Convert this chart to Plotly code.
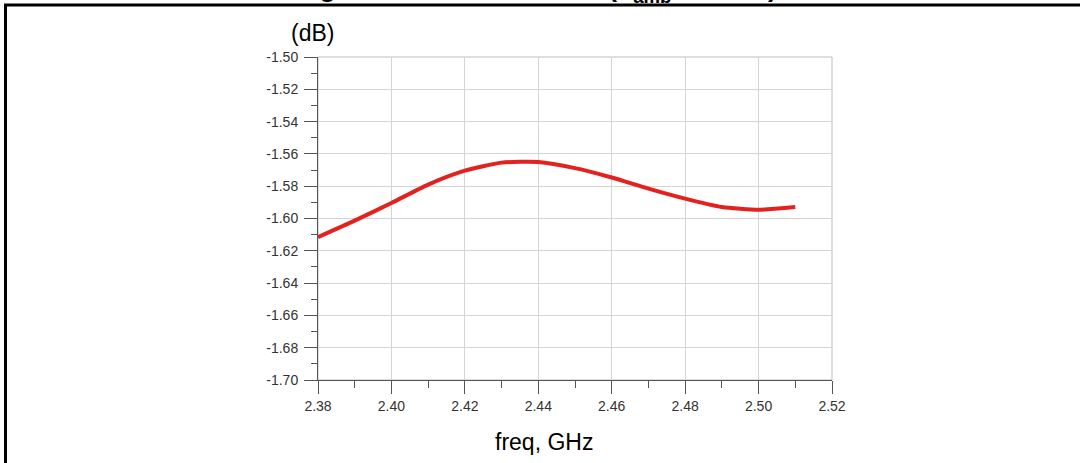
import plotly.graph_objects as go

freq_ghz = [2.38, 2.39, 2.40, 2.41, 2.42, 2.43, 2.44, 2.45, 2.46, 2.47, 2.48, 2.49, 2.50, 2.51]
loss_db = [-1.6115, -1.6013, -1.5904, -1.5790, -1.5704, -1.5654, -1.5650,
           -1.5688, -1.5746, -1.5815, -1.5877, -1.5929, -1.5946, -1.5929]

x_ticks = [2.38, 2.40, 2.42, 2.44, 2.46, 2.48, 2.50, 2.52]
y_ticks = [-1.50, -1.52, -1.54, -1.56, -1.58, -1.60, -1.62, -1.64, -1.66, -1.68, -1.70]

FONT = "Liberation Sans, Arial, sans-serif"
AX = "#555555"
GRID = "#d4d4d4"

W, H = 1080, 463
L, R, T, B = 318, 248, 57, 83
pw, ph = W - L - R, H - T - B

def px(x):
    return (x - L) / pw

def py(y):
    return (H - B - y) / ph

fig = go.Figure()
fig.add_trace(go.Scatter(x=freq_ghz, y=loss_db, mode="lines",
                         line=dict(color="#e3211f", width=4, shape="spline", smoothing=0.6),
                         showlegend=False, hoverinfo="skip"))

axis_common = dict(
    showline=True, linecolor=AX, linewidth=1,
    ticks="outside", ticklen=13, tickcolor=AX, tickwidth=1,
    showgrid=True, gridcolor=GRID, gridwidth=1,
    zeroline=False,
    tickfont=dict(family=FONT, size=14, color="#333333"),
)

fig.update_xaxes(range=[2.38, 2.52], tickvals=x_ticks,
                 ticktext=[f"{v:.2f}" for v in x_ticks],
                 minor=dict(dtick=0.01, tick0=2.38, ticks="outside", ticklen=7,
                            tickcolor=AX, showgrid=False),
                 **axis_common)
fig.update_yaxes(range=[-1.70, -1.50], tickvals=y_ticks,
                 ticktext=[f"{v:.2f}" for v in y_ticks],
                 minor=dict(dtick=0.01, tick0=-1.70, ticks="outside", ticklen=6,
                            tickcolor=AX, showgrid=False),
                 ticklabelstandoff=3,
                 **axis_common)

shapes = [
    # plot box (top & right edges)
    dict(type="rect", xref="paper", yref="paper", x0=0, y0=0, x1=1, y1=1,
         line=dict(color="#bdbdbd", width=1), layer="below"),
    # outer frame
    dict(type="line", xref="paper", yref="paper", x0=px(5.5), x1=px(5.5),
         y0=py(4), y1=py(480), line=dict(color="black", width=3)),
    dict(type="line", xref="paper", yref="paper", x0=px(4), x1=px(1100),
         y0=py(5), y1=py(5), line=dict(color="black", width=3)),
]

annotations = [
    dict(text="(dB)", xref="paper", yref="paper", x=px(312), y=py(33),
         xanchor="center", yanchor="middle", showarrow=False,
         font=dict(family=FONT, size=23, color="black")),
    dict(text="freq, GHz", xref="paper", yref="paper", x=px(544), y=py(442),
         xanchor="center", yanchor="middle", showarrow=False,
         font=dict(family=FONT, size=23, color="black")),
    dict(text="<b>Figure 10. Insertion loss (T<sub>amb</sub> = 25 °C)</b>",
         xref="paper", yref="paper", x=px(294), y=py(-10),
         xanchor="left", yanchor="middle", showarrow=False,
         font=dict(family=FONT, size=26.5, color="black")),
]

fig.update_layout(
    width=W, height=H,
    margin=dict(l=L, r=R, t=T, b=B),
    paper_bgcolor="white", plot_bgcolor="white",
    shapes=shapes, annotations=annotations,
    showlegend=False, hovermode=False,
)

fig.write_html("out.html",
               config={"displayModeBar": False, "staticPlot": True},
               post_script="document.body.style.margin='0px';document.body.style.overflow='hidden';")
